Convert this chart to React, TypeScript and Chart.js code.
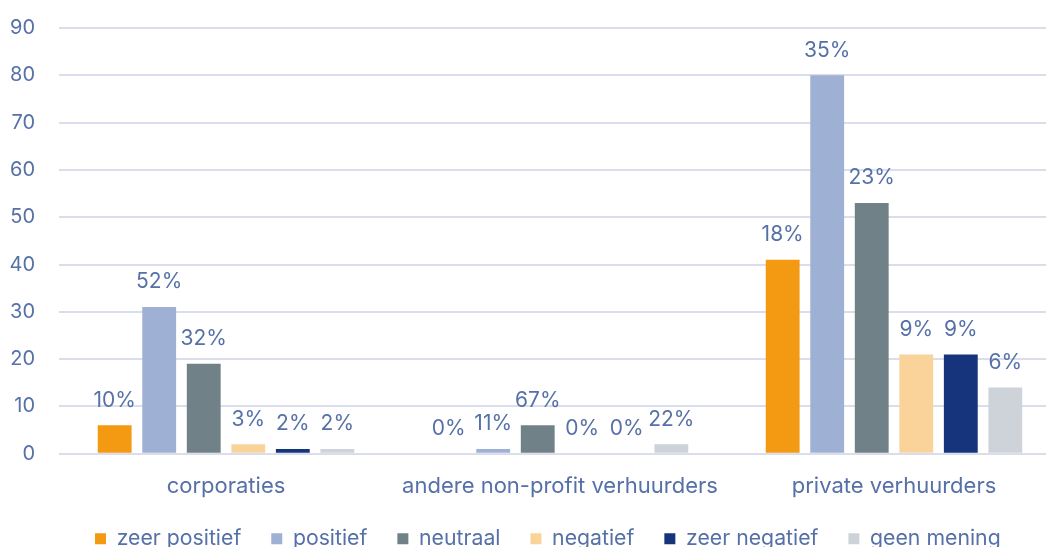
import React, { useEffect, useRef } from "react";
import { Chart, registerables } from "chart.js";

Chart.register(...registerables);

const categories = ["corporaties", "andere non-profit verhuurders", "private verhuurders"];
const seriesNames = ["zeer positief", "positief", "neutraal", "negatief", "zeer negatief", "geen mening"];

const zeerPositief = [6, 0, 41];
const positief = [31, 1, 80];
const neutraal = [19, 6, 53];
const negatief = [2, 0, 21];
const zeerNegatief = [1, 0, 21];
const geenMening = [1, 2, 14];

const zeerPositiefPct = ["10%", "0%", "18%"];
const positiefPct = ["52%", "11%", "35%"];
const neutraalPct = ["32%", "67%", "23%"];
const negatiefPct = ["3%", "0%", "9%"];
const zeerNegatiefPct = ["2%", "0%", "9%"];
const geenMeningPct = ["2%", "22%", "6%"];

const yMin = 0;
const yMax = 90;
const yStep = 10;

const seriesValues = [zeerPositief, positief, neutraal, negatief, zeerNegatief, geenMening];
const seriesPct = [zeerPositiefPct, positiefPct, neutraalPct, negatiefPct, zeerNegatiefPct, geenMeningPct];
const seriesColors = ["#F39A12", "#9FB0D5", "#718188", "#FAD39B", "#15347C", "#CDD3D9"];

const TEXT = "#5670A8";
const FONT = "Inter";

const pctLabels = {
  id: "pctLabels",
  afterLayout(chart: any) {
    const lg = chart.legend;
    if (lg) {
      const h = lg.height;
      lg.top = 498;
      lg.bottom = 498 + h;
      lg.left += 6;
      lg.right += 6;
    }
  },
  afterDatasetsDraw(chart: any) {
    const ctx = chart.ctx;
    ctx.save();
    ctx.font = `21px ${FONT}`;
    ctx.fillStyle = TEXT;
    ctx.textAlign = "center";
    ctx.textBaseline = "middle";
    chart.data.datasets.forEach((ds: any, i: number) => {
      const meta = chart.getDatasetMeta(i);
      meta.data.forEach((el: any, j: number) => {
        ctx.fillText(seriesPct[i][j], el.x, el.y - 25);
      });
    });
    ctx.restore();
  },
};

export default function App() {
  const ref = useRef<HTMLCanvasElement | null>(null);
  useEffect(() => {
    if (!ref.current) return;
    const chart = new Chart(ref.current, {
      type: "bar",
      data: {
        labels: categories,
        datasets: seriesNames.map((name, i) => ({
          label: name,
          data: seriesValues[i],
          backgroundColor: seriesColors[i],
          borderWidth: 0,
          categoryPercentage: 0.8,
          barPercentage: 0.76,
        })),
      },
      options: {
        responsive: false,
        animation: false,
        layout: { padding: { top: 28, left: 0, right: 0, bottom: 0 } },
        plugins: {
          tooltip: { enabled: false },
          legend: {
            position: "bottom",
            align: "start",
            fullSize: false,
            labels: {
              boxWidth: 11,
              boxHeight: 11,
              padding: 30,
              color: TEXT,
              font: { family: FONT, size: 21.25 },
            },
          },
        },
        scales: {
          x: {
            grid: { display: false },
            border: { display: false },
            ticks: { color: TEXT, font: { family: FONT, size: 22 }, padding: 11 },
            afterFit: (s: any) => {
              s.height = 44;
            },
          },
          y: {
            min: yMin,
            max: yMax,
            ticks: { stepSize: yStep, color: TEXT, font: { family: FONT, size: 20 }, padding: 24 },
            grid: { color: "#D9DDEC", lineWidth: 2, drawTicks: false },
            border: { display: false },
            afterFit: (s: any) => {
              s.width = 59;
              s.paddingTop = 0;
              s.paddingBottom = 0;
            },
          },
        },
      },
      plugins: [pctLabels],
    });
    return () => chart.destroy();
  }, []);
  return (
    <div style={{ position: "fixed", left: 0, top: 0, width: 1046, height: 547, overflow: "hidden", background: "#fff" }}>
      <canvas ref={ref} width={1061} height={559} style={{ position: "absolute", left: 0, top: 0, width: 1061, height: 559 }} />
    </div>
  );
}
